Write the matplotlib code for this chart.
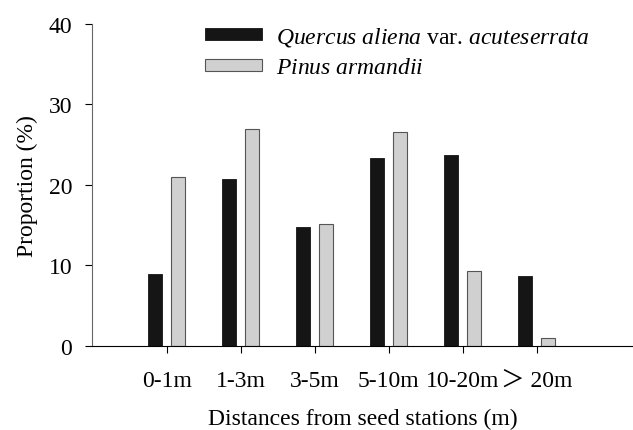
import matplotlib
matplotlib.use("Agg")
import matplotlib.pyplot as plt
import numpy as np

plt.rcParams['font.family'] = ['Liberation Serif', 'Noto Sans CJK SC', 'DejaVu Serif']
plt.rcParams['mathtext.fontset'] = 'custom'
plt.rcParams['mathtext.rm'] = 'Liberation Serif'
plt.rcParams['mathtext.it'] = 'Liberation Serif:italic'

categories = ['0-1m', '1-3m', '3-5m', '5-10m', '10-20m', '\uff1e 20m']
quercus = [8.9, 20.8, 14.8, 23.3, 23.7, 8.7]
pinus = [21.0, 27.0, 15.2, 26.6, 9.3, 1.0]

fig = plt.figure(figsize=(6.33, 4.31), dpi=100)
ax = fig.add_axes([0.145, 0.195, 0.855, 0.747])

x = np.arange(len(categories))
w = 0.19
ax.bar(x - 0.155, quercus, w, color='#151515', edgecolor='#151515', linewidth=0.6,
       label=r'$\it{Quercus\ aliena}$ var. $\it{acuteserrata}$')
ax.bar(x + 0.155, pinus, w, color='#d0d0d0', edgecolor='#555555', linewidth=0.8,
       label=r'$\it{Pinus\ armandii}$')

ax.set_xlim(-1.01, 6.3)
ax.set_ylim(0, 40)
ax.set_yticks([0, 10, 20, 30, 40])
ax.set_xticks(x)
ax.set_xticklabels(categories)
ax.tick_params(axis='x', length=5, pad=12, labelsize=17)
ax.tick_params(axis='y', length=5, pad=9, labelsize=17)
ax.spines['top'].set_visible(False)
ax.spines['right'].set_visible(False)
ax.spines['left'].set_color('#666666')

ax.set_ylabel('Proportion (%)', fontsize=17, labelpad=8)
ax.set_xlabel('Distances from seed stations (m)', fontsize=17, va='center')
ax.xaxis.set_label_coords(0.5, -0.224)

ax.legend(loc='upper left', bbox_to_anchor=(0.17, 1.063), frameon=False, fontsize=17,
          handlelength=2.4, handleheight=0.35, handletextpad=0.6, labelspacing=0.4)

fig.savefig('out.png', dpi=100)
